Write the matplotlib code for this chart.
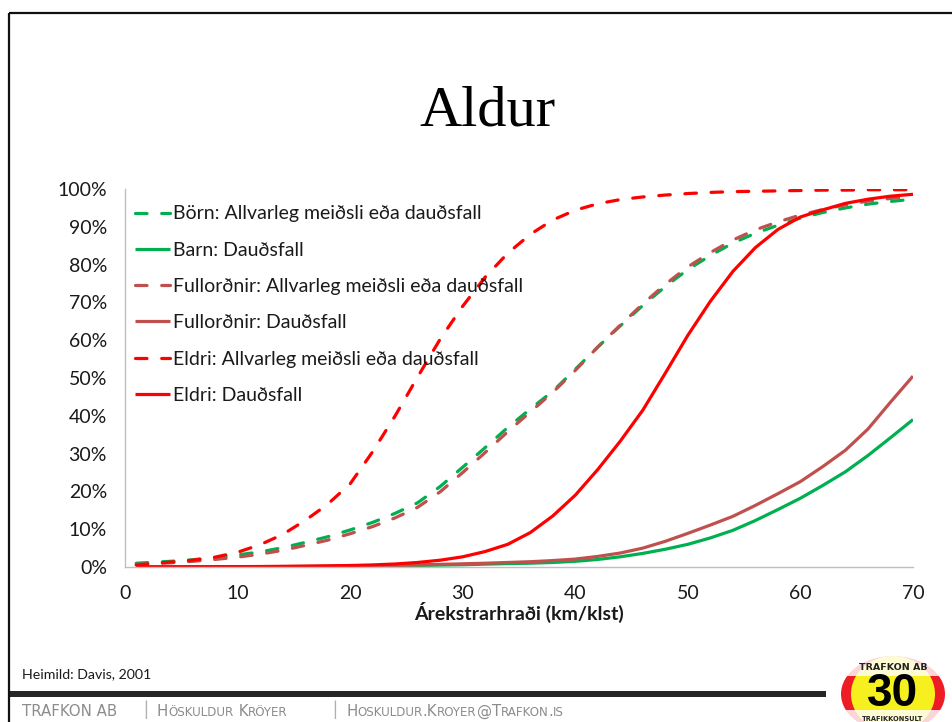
import matplotlib
matplotlib.use("Agg")
import matplotlib.pyplot as plt
from matplotlib.patches import Ellipse, Rectangle
from matplotlib.ticker import FuncFormatter

# speed (km/klst) and probability (%)
speed = [1, 4, 6, 8, 10, 12, 14, 16, 18, 20, 22, 24, 26, 28, 30, 32, 34, 36,
         38, 40, 42, 44, 46, 48, 50, 52, 54, 56, 58, 60, 62, 64, 66, 68, 70]

born_serious = [1.0, 1.5, 1.9, 2.5, 3.2, 4.0, 5.1, 6.5, 8.0, 9.8, 11.8, 14.2,
                17.0, 21.3, 26.4, 31.6, 36.9, 41.8, 46.5, 52.3, 58.2, 63.8,
                69.2, 74.2, 78.7, 82.4, 85.7, 88.3, 90.4, 92.3, 93.8, 95.0,
                96.0, 96.7, 97.3]
barn_death = [0.0, 0.0, 0.0, 0.05, 0.05, 0.08, 0.1, 0.12, 0.15, 0.2, 0.25,
              0.3, 0.4, 0.5, 0.6, 0.75, 0.9, 1.0, 1.2, 1.5, 2.0, 2.7, 3.6,
              4.7, 6.0, 7.7, 9.7, 12.3, 15.2, 18.2, 21.6, 25.2, 29.5, 34.2,
              39.0]
adult_serious = [0.7, 1.1, 1.5, 2.0, 2.6, 3.4, 4.4, 5.7, 7.1, 8.8, 10.7, 13.0,
                 15.8, 19.9, 25.0, 30.3, 35.8, 41.0, 46.2, 52.0, 58.2, 64.0,
                 69.6, 74.8, 79.4, 83.2, 86.5, 89.2, 91.3, 93.1, 94.6, 95.8,
                 96.8, 97.5, 98.0]
adult_death = [0.0, 0.0, 0.02, 0.05, 0.07, 0.1, 0.13, 0.17, 0.22, 0.28, 0.35,
               0.45, 0.55, 0.7, 0.85, 1.0, 1.2, 1.4, 1.7, 2.1, 2.8, 3.7, 5.0,
               6.8, 8.9, 11.1, 13.4, 16.3, 19.4, 22.6, 26.6, 30.9, 36.5, 43.6,
               50.5]
old_serious = [0.5, 1.3, 1.8, 2.6, 3.9, 5.9, 8.6, 12.3, 16.6, 22.0, 30.5, 40.0,
               50.3, 60.3, 69.0, 76.7, 83.0, 88.0, 91.8, 94.4, 96.1, 97.2,
               97.9, 98.4, 98.8, 99.1, 99.3, 99.4, 99.5, 99.6, 99.7, 99.7,
               99.8, 99.8, 99.8]
old_death = [0.05, 0.05, 0.06, 0.08, 0.1, 0.13, 0.17, 0.22, 0.3, 0.4, 0.55,
             0.8, 1.2, 1.8, 2.7, 4.1, 6.0, 9.1, 13.5, 19.0, 25.8, 33.3, 41.5,
             51.3, 61.3, 70.3, 78.2, 84.5, 89.3, 92.6, 94.5, 96.2, 97.3, 98.1,
             98.6]

labels = ["Börn: Allvarleg meiðsli eða dauðsfall",
          "Barn: Dauðsfall",
          "Fullorðnir: Allvarleg meiðsli eða dauðsfall",
          "Fullorðnir: Dauðsfall",
          "Eldri: Allvarleg meiðsli eða dauðsfall",
          "Eldri: Dauðsfall"]
series = [born_serious, barn_death, adult_serious, adult_death,
          old_serious, old_death]
colors = ["#00b050", "#00b050", "#c0504d", "#c0504d", "#ff0000", "#ff0000"]
dashed = [True, False, True, False, True, False]

plt.rcParams["font.family"] = ["Lato", "DejaVu Sans"]
txt = "#1a1a1a"
fs = 14

fig = plt.figure(figsize=(9.52, 7.22), dpi=100, facecolor="white")

# background layer in pixel coordinates (slide frame, footer, logo)
bg = fig.add_axes([0, 0, 1, 1], zorder=0)
bg.set_xlim(0, 952)
bg.set_ylim(722, 0)
bg.axis("off")

bg.plot([8.5, 8.5], [12.5, 722], color="#111111", lw=1.6, solid_capstyle="butt")
bg.plot([8.5, 952], [12.5, 12.5], color="#111111", lw=1.6, solid_capstyle="butt")
bg.add_patch(Rectangle((8, 691), 818, 6, color="#262626", lw=0))

bg.text(487, 125, "Aldur", ha="center", va="baseline", fontsize=42,
        family="Liberation Serif", color="black")
bg.text(22, 674, "Heimild: Davis, 2001", ha="left", va="center",
        fontsize=10.2, color=txt)


def small_caps(x, y, s, big=10.8, small=8.6, color="#8c8c8c"):
    runs = []
    for ch in s:
        low = ch.islower()
        if runs and runs[-1][1] == low:
            runs[-1][0] += ch
        else:
            runs.append([ch, low])
    prev = None
    for chunk, low in runs:
        size = small if low else big
        if prev is None:
            prev = bg.text(x, y, chunk.upper(), fontsize=size, color=color,
                           va="baseline", ha="left", family="DejaVu Sans")
        else:
            prev = bg.annotate(chunk.upper(), xy=(1, 0), xycoords=prev,
                               va="bottom", ha="left", fontsize=size,
                               color=color, family="DejaVu Sans")


small_caps(22, 716, "TRAFKON AB")
bg.text(146, 716, "|", ha="center", va="baseline", fontsize=14, color="#b0b0b0")
small_caps(157, 716, "Höskuldur Kröyer")
bg.text(335, 716, "|", ha="center", va="baseline", fontsize=14, color="#b0b0b0")
small_caps(346, 716, "Hoskuldur.Kroyer@Trafkon.is")

# logo
bg.add_patch(Ellipse((893, 694), 104, 76, color="#ee1c25", lw=0))
bg.add_patch(Ellipse((893, 694), 84, 76, color="#f5f01e", lw=0))
bg.add_patch(Rectangle((835, 655), 120, 21, color="white", alpha=0.82, lw=0))
bg.add_patch(Rectangle((835, 710), 120, 18, color="white", alpha=0.82, lw=0))
bg.text(893, 705.5, "30", ha="center", va="baseline", fontsize=33,
        fontweight="bold", color="black", family="Liberation Sans")
bg.text(893, 667, "TRAFKON AB", ha="center", va="center", fontsize=6.8,
        fontweight="bold", color="#222222", family="DejaVu Sans")
bg.text(893, 719, "TRAFIKKONSULT", ha="center", va="center", fontsize=4.8,
        fontweight="bold", color="#222222", family="DejaVu Sans")

# chart
ax = fig.add_axes([125 / 952, 1 - 567 / 722, 788 / 952, 378 / 722], zorder=1)
ax.set_facecolor("none")

for vals, lab, col, dsh in zip(series, labels, colors, dashed):
    frac = [v / 100 for v in vals]
    if dsh:
        ax.plot(speed, frac, color=col, lw=2.3, label=lab,
                linestyle=(0, (3.6, 4.6)), dash_capstyle="round")
    else:
        ax.plot(speed, frac, color=col, lw=2.3, label=lab,
                solid_capstyle="butt")

ax.set_xlim(0, 70)
ax.set_ylim(0, 1)
ax.set_xticks(range(0, 71, 10))
ax.set_yticks([i / 10 for i in range(11)])
ax.yaxis.set_major_formatter(FuncFormatter(lambda v, p: f"{v * 100:.0f}%"))
ax.tick_params(length=0, pad=13, labelsize=fs, labelcolor=txt)
for side in ["top", "right"]:
    ax.spines[side].set_visible(False)
for side in ["left", "bottom"]:
    ax.spines[side].set_color("#bfbfbf")
    ax.spines[side].set_linewidth(1)
ax.set_xlabel("Árekstrarhraði (km/klst)", fontsize=fs, fontweight="bold",
              color=txt, labelpad=0)

ax.legend(loc="upper left", bbox_to_anchor=(10 / 788, (567 - 205.5) / 378),
          frameon=False, fontsize=fs, borderpad=0, borderaxespad=0,
          handlelength=1.8, handletextpad=0.15, labelspacing=0.99,
          labelcolor=txt)

fig.savefig("out.png", dpi=100, facecolor="white")
